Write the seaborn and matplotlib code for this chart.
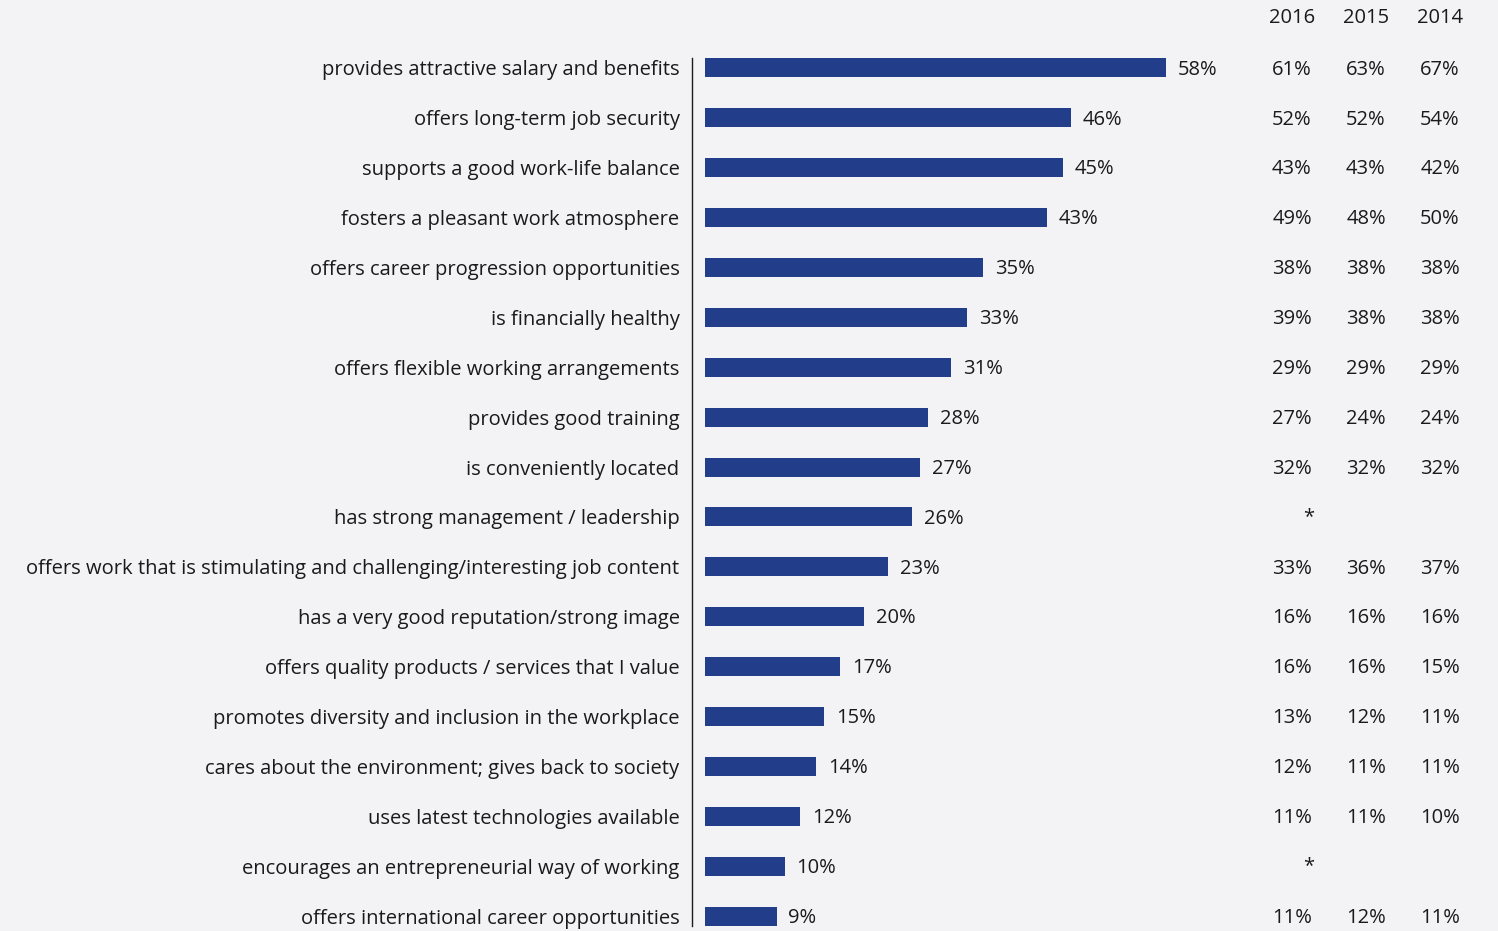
import matplotlib
matplotlib.use("Agg")
import matplotlib.pyplot as plt
import matplotlib.transforms as mtransforms
import seaborn as sns
import pandas as pd

categories = [
    "provides attractive salary and benefits",
    "offers long-term job security",
    "supports a good work-life balance",
    "fosters a pleasant work atmosphere",
    "offers career progression opportunities",
    "is financially healthy",
    "offers flexible working arrangements",
    "provides good training",
    "is conveniently located",
    "has strong management / leadership",
    "offers work that is stimulating and challenging/interesting job content",
    "has a very good reputation/strong image",
    "offers quality products / services that I value",
    "promotes diversity and inclusion in the workplace",
    "cares about the environment; gives back to society",
    "uses latest technologies available",
    "encourages an entrepreneurial way of working",
    "offers international career opportunities",
]
values_2017 = [58, 46, 45, 43, 35, 33, 31, 28, 27, 26, 23, 20, 17, 15, 14, 12, 10, 9]
values_2016 = [61, 52, 43, 49, 38, 39, 29, 27, 32, None, 33, 16, 16, 13, 12, 11, None, 11]
values_2015 = [63, 52, 43, 48, 38, 38, 29, 24, 32, None, 36, 16, 16, 12, 11, 11, None, 12]
values_2014 = [67, 54, 42, 50, 38, 38, 29, 24, 32, None, 37, 16, 15, 11, 11, 10, None, 11]
year_labels = ["2016", "2015", "2014"]

BG = "#f3f3f6"
BAR = "#223e8a"
TXT = "#1a1a1a"

sns.set_theme(style="white")
plt.rcParams["font.family"] = ["Open Sans", "DejaVu Sans"]

W, H = 1498, 931
fig = plt.figure(figsize=(W / 100, H / 100), dpi=100, facecolor=BG)

ax_left_px, ax_right_px = 692, 1240
ax_top_px, ax_bot_px = 58, 926
ax = fig.add_axes([ax_left_px / W, 1 - ax_bot_px / H,
                   (ax_right_px - ax_left_px) / W, (ax_bot_px - ax_top_px) / H])
ax.set_facecolor(BG)

df = pd.DataFrame({"category": categories, "value": values_2017})
sns.barplot(data=df, x="value", y="category", orient="h", color=BAR,
            saturation=1, width=0.38, linewidth=0, edgecolor=BAR, ax=ax)

px_per_unit = 7.95
x0 = -(705 - ax_left_px) / px_per_unit
ax.set_xlim(x0, x0 + (ax_right_px - ax_left_px) / px_per_unit)
ax.set_ylim(len(categories) - 1 + 0.2, -0.2)

dy = 0.035  # small downward shift for number labels
for i, v in enumerate(values_2017):
    ax.text(v + 1.5, i + dy, f"{v}%", va="center", ha="left", fontsize=14.5, color=TXT)

ax.set_xlabel("")
ax.set_ylabel("")
ax.set_xticks([])
ax.tick_params(axis="y", length=0, pad=9, labelsize=14.5, labelcolor=TXT)
for s in ["top", "right", "bottom"]:
    ax.spines[s].set_visible(False)
ax.spines["left"].set_color(TXT)
ax.spines["left"].set_linewidth(1.0)

trans = mtransforms.blended_transform_factory(fig.transFigure, ax.transData)
col_x = [1292, 1366, 1440]
for cx, yl, vals in zip(col_x, year_labels, [values_2016, values_2015, values_2014]):
    fig.text(cx / W, 1 - 18 / H, yl, ha="center", va="center", fontsize=14.5, color=TXT)
    for i, v in enumerate(vals):
        if v is not None:
            ax.text(cx / W, i + dy, f"{v}%", transform=trans, ha="center", va="center",
                    fontsize=14.5, color=TXT, clip_on=False)
for i, v in enumerate(values_2016):
    if v is None:
        ax.text(1309 / W, i, "*", transform=trans, ha="center", va="center",
                fontsize=14.5, color=TXT, clip_on=False)

fig.savefig("out.png", dpi=100, facecolor=BG)
